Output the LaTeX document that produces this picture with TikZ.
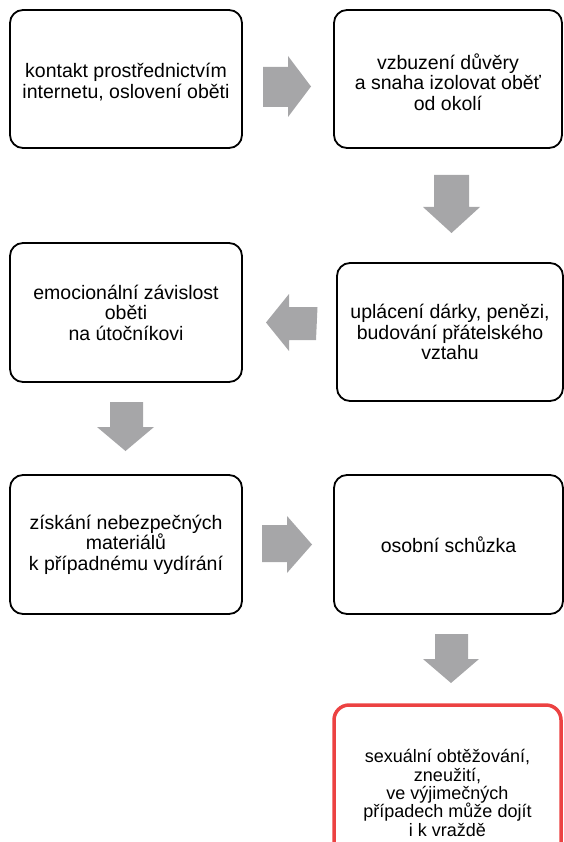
\documentclass[tikz,border=0pt]{standalone}
\usepackage{fontspec}
\setmainfont{Liberation Sans}
\definecolor{arrowgray}{RGB}{166,166,168}
\definecolor{boxred}{RGB}{236,66,66}
\begin{document}
\begin{tikzpicture}[x=1pt,y=-1pt,
  stepbox/.style={draw=black, line width=1.8pt, rounded corners=13pt, align=center,
    inner sep=0pt, font=\fontsize{19.5}{20.5}\selectfont},
  steptext/.style={align=center, inner sep=0pt, font=\fontsize{19.5}{20.5}\selectfont},
  endbox/.style={draw=boxred, line width=3.5pt, rounded corners=15pt, align=center,
    inner sep=0pt, font=\fontsize{18}{18.4}\selectfont},
  blockarrow/.style={fill=arrowgray, draw=none}]
\useasboundingbox (0,0) rectangle (564,842);
\begin{scope}
\clip (0,0) rectangle (564,842);
\node[stepbox, minimum width=232pt, minimum height=138pt] (b1) at (126,79) {};
\node[steptext] (t1) at ([yshift=-3pt]b1.center)
  {kontakt prostřednictvím\\internetu, oslovení oběti};
\node[stepbox, minimum width=228pt, minimum height=138pt] (b2) at (448,79) {};
\node[steptext] (t2) at ([yshift=-3pt]b2.center)
  {vzbuzení důvěry\\a snaha izolovat oběť\\od okolí};
\node[stepbox, minimum width=226pt, minimum height=138pt] (b3) at (450,332)
  {uplácení dárky, penězi,\\budování přátelského\\vztahu};
\node[stepbox, minimum width=232pt, minimum height=139pt] (b4) at (126,312.5)
  {emocionální závislost\\oběti\\na útočníkovi};
\node[stepbox, minimum width=232pt, minimum height=139pt] (b5) at (126,544.5)
  {získání nebezpečných\\materiálů\\k případnému vydírání};
\node[stepbox, minimum width=229pt, minimum height=139pt] (b6) at (448.5,544.5)
  {osobní schůzka};
\node[endbox, minimum width=227pt, minimum height=176pt] (b7) at (447.5,793)
  {sexuální obtěžování,\\zneužití,\\ve výjimečných\\případech může dojít\\i k vraždě};
\end{scope}
% block arrows
\path[blockarrow] (263,67) -- (288,67) -- (288,56) -- (311,86.5) -- (288,117) -- (288,107) -- (263,107) -- cycle;
\path[blockarrow] (434,175) -- (469,175) -- (469,207) -- (480,207) -- (451.5,233) -- (423,207) -- (434,207) -- cycle;
\path[blockarrow] (317.5,307) -- (289,307) -- (289,294) -- (266,322.5) -- (289,351) -- (289,340) -- (316,340) -- cycle;
\path[blockarrow] (110,402) -- (143,402) -- (143,427) -- (154,427) -- (125.5,451) -- (97,427) -- (110,427) -- cycle;
\path[blockarrow] (262,525) -- (287,525) -- (287,516) -- (312,544.5) -- (287,573) -- (287,562) -- (262,562) -- cycle;
\path[blockarrow] (435,634) -- (468,634) -- (468,659) -- (479,659) -- (451,683) -- (423,659) -- (435,659) -- cycle;
\end{tikzpicture}
\end{document}
